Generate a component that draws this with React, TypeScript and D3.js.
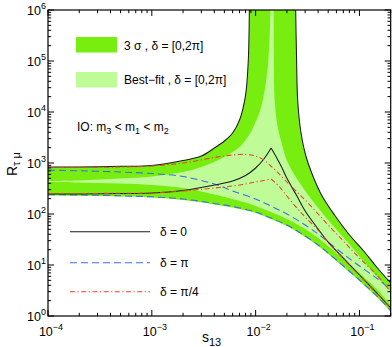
import React from 'react';
import * as d3 from 'd3';

type P = [number, number];

// x: s13, y: R_{tau mu}
const xTickExps = [-4, -3, -2, -1];
const yTickExps = [0, 1, 2, 3, 4, 5, 6];

// 3 sigma region, upper boundary (left branch, up to the pole)
const upperLeftBlack: P[] = [
  [1e-4, 835], [2e-4, 835], [5e-4, 861], [1e-3, 893], [2e-3, 1120], [3e-3, 1370],
  [4e-3, 1970], [5e-3, 2700], [6e-3, 3880], [7e-3, 6970], [8e-3, 21500], [8.5e-3, 1.05e5],
  [8.7e-3, 1e6], [8.75e-3, 3e6],
];
// 3 sigma region, upper boundary (right branch, from the pole)
const upperRightBlack: P[] = [
  [0.0240, 3e6], [0.0243, 1e6], [0.0248, 1.05e5], [0.0254, 17200], [0.0271, 4440],
  [0.0303, 1435], [0.0353, 582], [0.0431, 236], [0.0575, 95.6], [0.0802, 38.7],
  [0.112, 18], [0.149, 8.73], [0.2, 4.44],
];
// 3 sigma region, lower boundary
const darkLower: P[] = [
  [1e-4, 231], [2e-4, 228], [5e-4, 220], [1e-3, 211], [2e-3, 188], [4e-3, 154], [6e-3, 134],
  [0.01, 105], [0.014, 80], [0.02, 58], [0.03, 35.4], [0.04, 23.6], [0.05, 16.4],
  [0.07, 9.14], [0.1, 4.86], [0.15, 2.25], [0.2, 1.2],
];
// best-fit region boundaries
const lightUpper: P[] = [
  [1e-4, 444], [2e-4, 454], [5e-4, 497], [1e-3, 544], [2e-3, 666], [3e-3, 835], [4e-3, 1050],
  [5e-3, 1310], [6e-3, 1640], [7e-3, 2060], [8e-3, 2830], [9e-3, 4060], [0.01, 6370],
  [0.011, 10500], [0.012, 21500], [0.013, 66600], [0.0136, 2.58e5], [0.0139, 1e6], [0.0140, 3e6],
];
const lightRight: P[] = [
  [0.0148, 3e6], [0.0149, 1e6], [0.0150, 76300], [0.01525, 17200], [0.0163, 5080],
  [0.0178, 2470], [0.0199, 1145], [0.0237, 582], [0.0296, 296], [0.0394, 137],
  [0.0538, 63.7], [0.0767, 28.2], [0.107, 12.5], [0.1455, 6.09], [0.2, 3.09],
];
const lightLower: P[] = [
  [1e-4, 424], [2e-4, 415], [5e-4, 396], [1e-3, 370], [2e-3, 323], [4e-3, 241], [6e-3, 197],
  [0.01, 144], [0.014, 109], [0.02, 80], [0.03, 51], [0.04, 34], [0.05, 23.6], [0.07, 13.1],
  [0.1, 6.97], [0.15, 3.23], [0.2, 1.64],
];
// delta = 0 (inner curve, with cusp)
const blackInnerLeft: P[] = [
  [1e-4, 247], [2e-4, 247], [5e-4, 252], [1e-3, 258], [2e-3, 289], [4e-3, 370], [6e-3, 444],
  [8e-3, 569], [0.01, 798], [0.012, 1200], [0.0141, 1970],
];
const blackInnerRight: P[] = [
  [0.0141, 1970], [0.016, 1253], [0.018, 798], [0.02, 500], [0.025, 225], [0.03, 114.5],
  [0.04, 50.8], [0.05, 28.2], [0.07, 13.7], [0.1, 6.37], [0.15, 2.7], [0.2, 1.44],
];
// delta = pi/4
const redUpper: P[] = [
  [1e-4, 816], [2e-4, 816], [5e-4, 835], [1e-3, 874], [2e-3, 1000], [4e-3, 1280], [6e-3, 1435],
  [8e-3, 1470], [0.01, 1370], [0.012, 1145], [0.014, 874], [0.016, 681], [0.02, 424],
  [0.025, 270], [0.03, 188], [0.04, 100], [0.05, 60.9], [0.07, 29.5], [0.1, 13.7],
  [0.15, 6.09], [0.2, 2.96],
];
const redLowerLeft: P[] = [
  [1e-4, 252], [2e-4, 252], [5e-4, 255], [1e-3, 258], [2e-3, 283], [4e-3, 323], [6e-3, 354],
  [8e-3, 387], [0.01, 424], [0.012, 454], [0.0141, 486],
];
const redLowerRight: P[] = [
  [0.0141, 486], [0.016, 387], [0.018, 296], [0.02, 225], [0.025, 131], [0.03, 87.4],
  [0.04, 48], [0.05, 27.5], [0.07, 13.2], [0.1, 6.2], [0.15, 2.65], [0.2, 1.4],
];
// delta = pi
const blueUpper: P[] = [
  [1e-4, 729], [2e-4, 703], [5e-4, 666], [1e-3, 622], [2e-3, 544], [4e-3, 387], [6e-3, 283],
  [0.01, 197], [0.014, 144], [0.02, 100], [0.03, 60.9], [0.04, 40.5], [0.05, 28.2],
  [0.07, 16.4], [0.1, 9.56], [0.15, 5.31], [0.2, 3.23],
];
const blueLower: P[] = [
  [1e-4, 239], [2e-4, 236], [5e-4, 227.5], [1e-3, 217], [2e-3, 197], [4e-3, 161], [6e-3, 140],
  [0.01, 109.4], [0.014, 83.5], [0.02, 60.9], [0.03, 37], [0.04, 24.7], [0.05, 17.2],
  [0.07, 9.56], [0.1, 5.08], [0.15, 2.36], [0.2, 1.28],
];

const DARK = '#78EE10';
const LIGHT = '#BFFB97';
const BLACK = '#1a1a1a';
const BLUE = '#3C6CE6';
const RED = '#E8432A';
const BLUE_DASH = '7,4';
const RED_DASH = '5,2.5,1.2,2.5';
const FONT = 'Liberation Sans, Arial, Helvetica, sans-serif';

const X0 = 48, X1 = 390.7, Y0 = 10, Y1 = 316;

export default function App() {
  const x = d3.scaleLog().domain([1e-4, 0.2]).range([X0, X1]);
  const y = d3.scaleLog().domain([1, 1e6]).range([Y1, Y0]);
  const seg = (pts: P[]) =>
    d3.line<P>().x(d => x(d[0])).y(d => y(d[1])).curve(d3.curveCatmullRom.alpha(0.5))(pts) as string;
  const join = (...ss: string[]) => ss.map((s, i) => (i === 0 ? s : 'L' + s.slice(1))).join('') + 'Z';

  const darkPath = join(seg(upperLeftBlack), seg(upperRightBlack), seg([...darkLower].reverse()));
  const lightPath = join(seg(lightUpper), seg(lightRight), seg([...lightLower].reverse()));

  const xTicks: { v: number; major: boolean }[] = [];
  for (let e = -4; e <= -1; e++)
    for (let m = 1; m <= 9; m++) {
      const v = m * Math.pow(10, e);
      if (v <= 0.2 + 1e-12) xTicks.push({ v, major: m === 1 });
    }
  const yTicks: { v: number; major: boolean }[] = [];
  for (let e = 0; e <= 6; e++)
    for (let m = 1; m <= 9; m++) {
      const v = m * Math.pow(10, e);
      if (v <= 1e6 + 1) yTicks.push({ v, major: m === 1 });
    }
  const TM = 6, Tm = 3.2;

  const line = (pts: P[], color: string, dash?: string, w = 1.05) => (
    <path d={seg(pts)} fill="none" stroke={color} strokeWidth={w} strokeDasharray={dash} />
  );

  return (
    <svg width={392} height={347} style={{ position: 'absolute', left: 0, top: 0, background: '#fff' }}
      fontFamily={FONT}>
      <defs>
        <clipPath id="plot"><rect x={X0} y={Y0} width={X1 - X0} height={Y1 - Y0} /></clipPath>
      </defs>
      <g clipPath="url(#plot)">
        <path d={darkPath} fill={DARK} stroke="none" />
        <path d={lightPath} fill={LIGHT} stroke="none" />
        {line(upperLeftBlack, BLACK)}
        {line(upperRightBlack, BLACK)}
        {line(blueUpper, BLUE, BLUE_DASH)}
        {line(blueLower, BLUE, BLUE_DASH)}
        {line(blackInnerLeft, BLACK)}
        {line(blackInnerRight, BLACK)}
        {line(redUpper, RED, RED_DASH)}
        {line(redLowerLeft, RED, RED_DASH)}
        {line(redLowerRight, RED, RED_DASH)}
      </g>

      {/* ticks */}
      {xTicks.map((t, i) => {
        const px = x(t.v);
        const l = t.major ? TM : Tm;
        return (
          <g key={'xt' + i} stroke="#000" strokeWidth={1}>
            <line x1={px} x2={px} y1={Y1} y2={Y1 - l} />
            <line x1={px} x2={px} y1={Y0} y2={Y0 + l} />
          </g>
        );
      })}
      {yTicks.map((t, i) => {
        const py = y(t.v);
        const l = t.major ? TM : Tm;
        return (
          <g key={'yt' + i} stroke="#000" strokeWidth={1}>
            <line x1={X0} x2={X0 + l} y1={py} y2={py} />
            <line x1={X1} x2={X1 - l} y1={py} y2={py} />
          </g>
        );
      })}
      <rect x={X0} y={Y0} width={X1 - X0} height={Y1 - Y0} fill="none" stroke="#000" strokeWidth={1.2} />

      {/* tick labels */}
      {xTickExps.map(e => (
        <text key={'xl' + e} x={x(Math.pow(10, e)) + 3} y={335.5} fontSize={12.5} textAnchor="middle">
          10<tspan fontSize={9} dy={-5.5}>{'\u2212' + Math.abs(e)}</tspan>
        </text>
      ))}
      {yTickExps.map(e => (
        <text key={'yl' + e} x={46} y={y(Math.pow(10, e)) + 4.5} fontSize={12.5} textAnchor="end">
          10<tspan fontSize={9} dy={-5.5}>{String(e)}</tspan>
        </text>
      ))}

      {/* axis titles */}
      <text x={202} y={341.5} fontSize={14}>
        s<tspan fontSize={11} dy={4.5}>13</tspan>
      </text>
      <text transform="translate(16.5,176) rotate(-90)" fontSize={14}>
        R<tspan fontSize={11} dy={3.5}>τ μ</tspan>
      </text>

      {/* region legend */}
      <rect x={76} y={37} width={41} height={15.5} fill={DARK} />
      <text x={124} y={49.5} fontSize={12}>3 σ , δ = [0,2π]</text>
      <rect x={76} y={72} width={41} height={15.5} fill={LIGHT} />
      <text x={124} y={84} fontSize={12}>Best−fit , δ = [0,2π]</text>
      <text x={77} y={131} fontSize={12}>
        IO: m<tspan fontSize={9} dy={3}>3</tspan>
        <tspan dy={-3}> &lt; m</tspan><tspan fontSize={9} dy={3}>1</tspan>
        <tspan dy={-3}> &lt; m</tspan><tspan fontSize={9} dy={3}>2</tspan>
      </text>

      {/* line legend */}
      <line x1={70} x2={150} y1={231.7} y2={231.7} stroke={BLACK} strokeWidth={1.05} />
      <text x={160} y={236} fontSize={12}>δ = 0</text>
      <line x1={70} x2={150} y1={262.7} y2={262.7} stroke={BLUE} strokeWidth={1.05} strokeDasharray={BLUE_DASH} />
      <text x={160} y={267} fontSize={12}>δ = π</text>
      <line x1={70} x2={150} y1={291.7} y2={291.7} stroke={RED} strokeWidth={1.05} strokeDasharray={RED_DASH} />
      <text x={160} y={296} fontSize={12}>δ = π/4</text>
    </svg>
  );
}
